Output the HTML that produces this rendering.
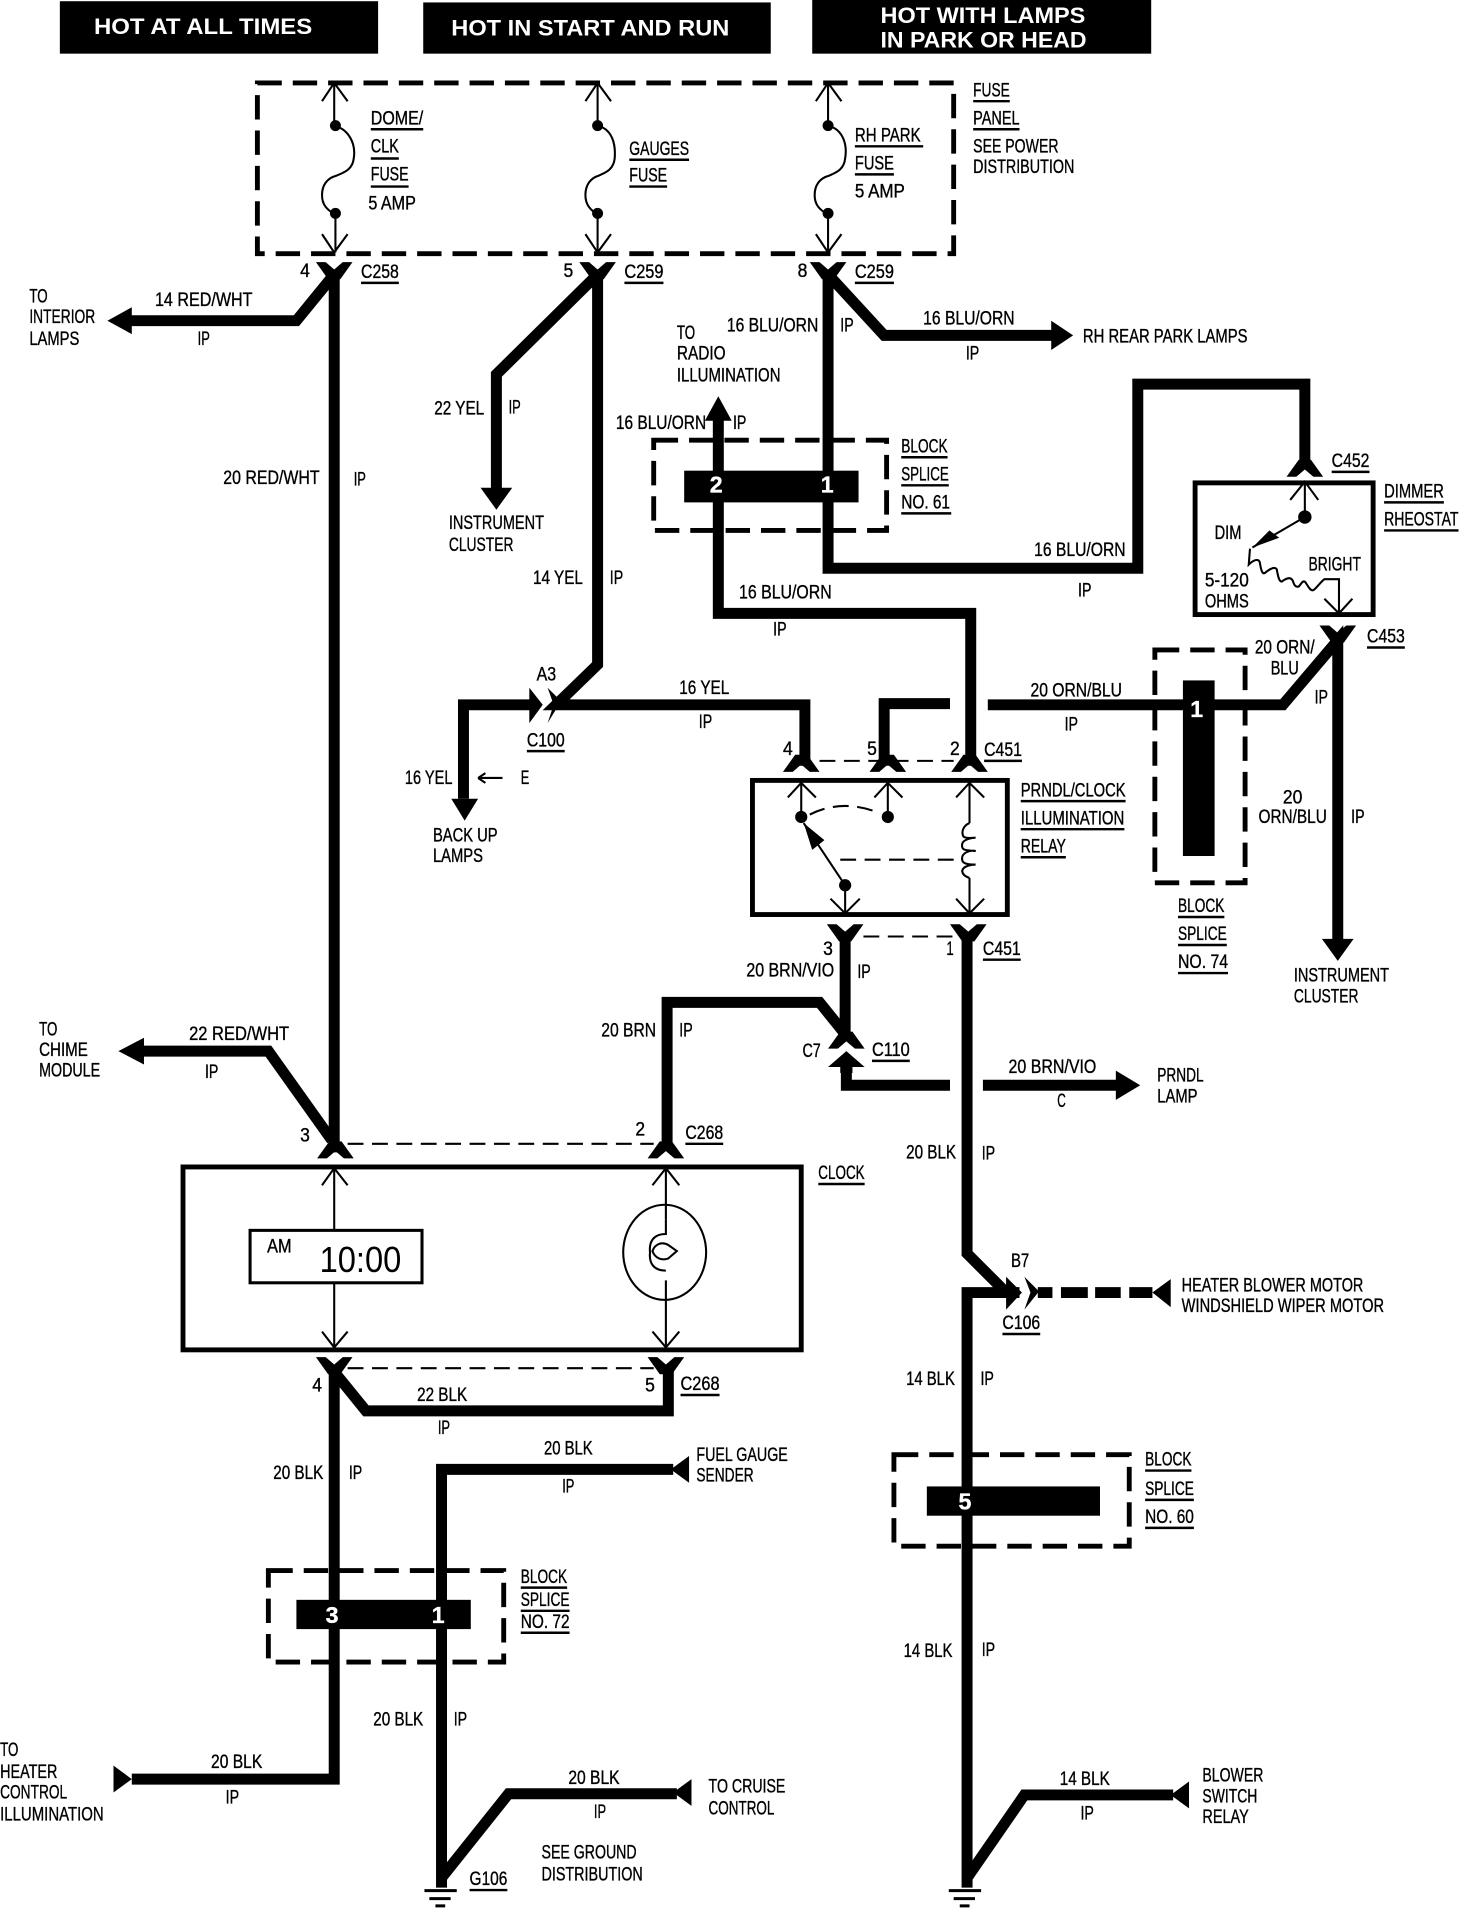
<!DOCTYPE html>
<html><head><meta charset="utf-8"><style>
html,body{margin:0;padding:0;background:#fff}
svg{display:block}
text{font-family:"Liberation Sans",sans-serif;font-size:16px;fill:#000;stroke:#000;stroke-width:.3}
.h{font-weight:bold;fill:#fff;stroke:none;font-size:18px}
.w{fill:#fff;stroke:#fff;font-weight:bold;font-size:19px}
.wire{fill:none;stroke:#000;stroke-width:9;stroke-linejoin:miter}
.thin{fill:none;stroke:#000;stroke-width:1.7}
.ul{fill:none;stroke:#000;stroke-width:2}
.dash{fill:none;stroke:#000;stroke-width:4;stroke-dasharray:20 9}
.dl{fill:none;stroke:#000;stroke-width:1.7;stroke-dasharray:13 7}
.box{fill:none;stroke:#000;stroke-width:4}
</style></head><body>
<svg width="1472" height="1912" viewBox="0 0 1207 1568" xmlns="http://www.w3.org/2000/svg">
<rect width="1207" height="1568" fill="#fff"/>
<rect x="49" y="1" width="261" height="43"/><rect x="347" y="2" width="285" height="42"/><rect x="666" y="0" width="278" height="44"/>
<text class="h" x="77" y="28" textLength="179" lengthAdjust="spacingAndGlyphs">HOT AT ALL TIMES</text>
<text class="h" x="370" y="29" textLength="228" lengthAdjust="spacingAndGlyphs">HOT IN START AND RUN</text>
<text class="h" x="722" y="19" textLength="168" lengthAdjust="spacingAndGlyphs">HOT WITH LAMPS</text>
<text class="h" x="722" y="39" textLength="169" lengthAdjust="spacingAndGlyphs">IN PARK OR HEAD</text>

<rect class="dash" x="211" y="68" width="571" height="140"/>
<rect class="dash" x="536" y="361" width="191" height="74"/>
<rect class="dash" x="947" y="533" width="74" height="191"/>
<rect class="dash" x="220" y="1288" width="193" height="75"/>
<rect class="dash" x="733" y="1193" width="193" height="75"/>

<path class="wire" d="M274 225V945M274 225L243 263H105"/>
<path class="wire" d="M490 225V545L456 578H660V628M490 225L407 307V402"/>
<path class="wire" d="M380 655V578H438"/>
<path class="wire" d="M679 225V466H933V315H1070V385M679 225L725 275H865"/>
<path class="wire" d="M589 340V503H796V628"/>
<path class="wire" d="M725 628V577H779M810 578H1052L1097 525V772"/>
<path class="wire" d="M693 765V852M547 940V822H672L693 848M694 866V890H779M806 890H918"/>
<path class="wire" d="M793 765V1028L825 1060H836M836 1060H793V1548"/>
<path class="wire" d="M793 1540L840 1472H962"/>
<path class="wire" d="M115 862H220L272 935"/>
<path class="wire" d="M274 1120V1459H108M274 1125L300 1157H548V1120"/>
<path class="wire" d="M552 1205H362V1548M362 1540L417 1471H555"/>
<path d="M851 1060H863M870 1060H892M898 1060H919M926 1060H945" fill="none" stroke="#000" stroke-width="9"/>
<path d="M88 263L108 252V274ZM407 418L394 400H420ZM381 673L370 655H392ZM880 275L862 263V287ZM589 325L578 345H600ZM1097 788L1084 770H1110ZM935 890L915 878V902ZM97 862L118 851V873ZM108 1459L93 1448V1470ZM550 1205L565 1194V1216ZM552 1470L567 1459V1481ZM960 1472L975 1461V1483ZM945 1060L960 1049V1072Z"/>

<!-- connector shapes -->
<path transform="translate(274 221)" d="M-15 -6H-7L0 0L7 -6H15L5 8H-5Z"/>
<path transform="translate(490 221)" d="M-15 -6H-7L0 0L7 -6H15L5 8H-5Z"/>
<path transform="translate(679 221)" d="M-15 -6H-7L0 0L7 -6H15L5 8H-5Z"/>
<path transform="translate(1097 519)" d="M-15 -6H-7L0 0L7 -6H15L5 8H-5Z"/>
<path transform="translate(693 764)" d="M-15 -6H-7L0 0L7 -6H15L5 8H-5Z"/>
<path transform="translate(794 764)" d="M-15 -6H-7L0 0L7 -6H15L5 8H-5Z"/>
<path transform="translate(274 1119)" d="M-15 -6H-7L0 0L7 -6H15L5 8H-5Z"/>
<path transform="translate(546 1119)" d="M-15 -6H-7L0 0L7 -6H15L5 8H-5Z"/>
<path transform="translate(1070 385)" d="M-15 6H-7L0 0L7 6H15L5 -8H-5Z"/>
<path transform="translate(657 627)" d="M-15 6H-7L0 0L7 6H15L5 -8H-5Z"/>
<path transform="translate(728 627)" d="M-15 6H-7L0 0L7 6H15L5 -8H-5Z"/>
<path transform="translate(795 627)" d="M-15 6H-7L0 0L7 6H15L5 -8H-5Z"/>
<path transform="translate(275 944)" d="M-15 6H-7L0 0L7 6H15L5 -8H-5Z"/>
<path transform="translate(546 944)" d="M-15 6H-7L0 0L7 6H15L5 -8H-5Z"/>
<path transform="translate(694 854)" d="M-15 6H-7L0 0L7 6H15L5 -8H-5Z"/>
<path d="M694 862L709 875H699V880H689V875H679Z"/>
<path d="M434 564L445 578L434 593ZM449 564L460 575L449 593L454 578ZM825 1047L838 1060L825 1074ZM840 1047L852 1059L840 1074L845 1060Z"/>

<rect x="561" y="386" width="143" height="26"/><rect x="970" y="558" width="26" height="144"/>
<rect x="243" y="1312" width="143" height="24"/><rect x="760" y="1219" width="142" height="24"/>
<text class="w" x="582" y="404">2</text><text class="w" x="673" y="404">1</text><text class="w" x="976" y="588">1</text>
<text class="w" x="267" y="1331">3</text><text class="w" x="354" y="1331">1</text><text class="w" x="786" y="1238">5</text>

<g class="thin">
<path d="M274 68V103M264 83L274 68L285 83M275 175V207M264 192L274 207L285 192M274 103C286 106 292 118 290 130C289 140 280 142 276 144C268 146 264 152 264 160C264 168 268 172 275 176"/>
<path d="M490 68V103M480 83L490 68L501 83M490 175V207M480 192L490 207L501 192M490 103C502 106 505 118 504 130C503 140 495 142 491 144C484 146 480 152 480 160C480 168 484 172 490 176"/>
<path d="M679 68V103M669 83L679 68L690 83M679 175V207M669 192L679 207L690 192M679 103C691 106 695 118 693 130C692 140 684 142 680 144C672 146 668 152 668 160C668 168 672 172 679 176"/>
<path d="M657 642V670M646 654L657 642L669 654M728 642V670M717 654L728 642L740 654M795 642V675M784 654L795 642L807 654M795 720V748M784 737L795 749L807 737M693 726V749M681 737L693 749L705 737M693 726L659 675"/>
<path d="M795 675C790 677 788 682 790 686C792 688 798 687 800 687C798 687 790 688 789 692C788 698 792 697 800 698C798 697 790 698 789 703C788 708 792 709 800 709C797 709 790 710 789 714C789 717 792 719 795 720"/>
<path d="M1070 396V424M1058 410L1070 395L1081 410M1070 424L1027 449M1025 450L1024 463C1028 459 1032 458 1033 461C1034 467 1035 471 1037 470C1041 467 1045 464 1047 467C1048 473 1049 477 1051 477C1055 474 1058 473 1060 476C1061 479 1062 482 1065 481C1067 479 1068 476 1070 477C1072 479 1074 485 1077 484C1080 482 1083 477 1086 475H1098V503M1086 491L1098 503L1109 491"/>
<path d="M274 958V1010M264 972L274 958L285 972M274 1052V1105M264 1092L274 1105L285 1092M546 958V1000M535 972L546 958L557 972M546 1050V1105M535 1092L546 1105L557 1092"/>
<ellipse cx="545" cy="1027" rx="34" ry="39"/>
<path d="M546 1000V1012C536 1012 532 1018 533 1027C532 1036 536 1042 546 1042"/>
<path d="M535 1026C537 1020 543 1018 548 1021L555 1026L548 1032C543 1034 537 1032 535 1026Z"/>
</g>
<path d="M659 675L666 697L676 689Z M1027 449L1041 435L1049 441Z"/>
<circle cx="275" cy="103" r="4.5"/><circle cx="275" cy="175" r="4.5"/><circle cx="490" cy="103" r="4.5"/><circle cx="490" cy="175" r="4.5"/><circle cx="679" cy="103" r="4.5"/><circle cx="679" cy="175" r="4.5"/>
<circle cx="657" cy="670" r="5"/><circle cx="728" cy="670" r="5"/><circle cx="693" cy="726" r="5"/><circle cx="1070" cy="424" r="5.5"/>

<path class="dl" d="M672 624H782M708 768H782M285 938H536M285 1122H536M664 668Q690 655 719 666M689 705H782"/>
<rect class="box" x="617" y="640" width="209" height="110"/>
<rect class="box" x="980" y="396" width="146" height="108"/>
<rect class="box" x="150" y="957" width="507" height="150"/>
<rect x="205" y="1009" width="141" height="43" fill="#fff" stroke="#000" stroke-width="2.5"/>
<path d="M348 1550.5H374.5M352 1557H369.5M357 1563H365M778 1550.5H804.5M782 1557H799.5M787 1563H795" fill="none" stroke="#000" stroke-width="2.5"/>
<path d="M392 638H412M392 638L398 634M392 638L398 642" class="thin"/>

<path class="ul" d="M304 106H347M304 130H327M304 153H335M516 131H565M516 153H547M701 120H757M701 143H733M798 83H828M798 106H836M296 232H327M512 232H544M701 232H733M739 375H777M739 398H778M739 421H780M1092 387H1123M1135 412H1184M1135 435H1196M1121 531H1152M432 616H463M807 624H838M837 657H923M837 680H922M837 703H874M966 752H1004M966 775H1006M966 798H1007M806 787H837M715 870H746M562 938H593M671 971H709M558 1144H590M822 1094H853M939 1206H977M939 1230H979M939 1253H979M427 1302H465M427 1321H467M427 1339H467M385 1550H416"/>

<g>
<text x="304" y="102" textLength="43" lengthAdjust="spacingAndGlyphs">DOME/</text>
<text x="304" y="125" textLength="23" lengthAdjust="spacingAndGlyphs">CLK</text>
<text x="304" y="148" textLength="31" lengthAdjust="spacingAndGlyphs">FUSE</text>
<text x="302" y="172" textLength="39" lengthAdjust="spacingAndGlyphs">5 AMP</text>
<text x="516" y="127" textLength="49" lengthAdjust="spacingAndGlyphs">GAUGES</text>
<text x="516" y="149" textLength="31" lengthAdjust="spacingAndGlyphs">FUSE</text>
<text x="701" y="116" textLength="54" lengthAdjust="spacingAndGlyphs">RH PARK</text>
<text x="701" y="139" textLength="32" lengthAdjust="spacingAndGlyphs">FUSE</text>
<text x="701" y="162" textLength="41" lengthAdjust="spacingAndGlyphs">5 AMP</text>
<text x="798" y="79" textLength="30" lengthAdjust="spacingAndGlyphs">FUSE</text>
<text x="798" y="102" textLength="38" lengthAdjust="spacingAndGlyphs">PANEL</text>
<text x="798" y="125" textLength="70" lengthAdjust="spacingAndGlyphs">SEE POWER</text>
<text x="798" y="142" textLength="83" lengthAdjust="spacingAndGlyphs">DISTRIBUTION</text>
<text x="246" y="227" textLength="8" lengthAdjust="spacingAndGlyphs">4</text>
<text x="296" y="228" textLength="31" lengthAdjust="spacingAndGlyphs">C258</text>
<text x="462" y="227" textLength="8" lengthAdjust="spacingAndGlyphs">5</text>
<text x="512" y="228" textLength="32" lengthAdjust="spacingAndGlyphs">C259</text>
<text x="654" y="227" textLength="8" lengthAdjust="spacingAndGlyphs">8</text>
<text x="701" y="228" textLength="32" lengthAdjust="spacingAndGlyphs">C259</text>
<text x="24" y="248" textLength="15" lengthAdjust="spacingAndGlyphs">TO</text>
<text x="24" y="265" textLength="54" lengthAdjust="spacingAndGlyphs">INTERIOR</text>
<text x="24" y="283" textLength="41" lengthAdjust="spacingAndGlyphs">LAMPS</text>
<text x="127" y="251" textLength="80" lengthAdjust="spacingAndGlyphs">14 RED/WHT</text>
<text x="162" y="283" textLength="10" lengthAdjust="spacingAndGlyphs">IP</text>
<text x="183" y="397" textLength="79" lengthAdjust="spacingAndGlyphs">20 RED/WHT</text>
<text x="290" y="398" textLength="10" lengthAdjust="spacingAndGlyphs">IP</text>
<text x="356" y="340" textLength="41" lengthAdjust="spacingAndGlyphs">22 YEL</text>
<text x="417" y="339" textLength="10" lengthAdjust="spacingAndGlyphs">IP</text>
<text x="368" y="434" textLength="78" lengthAdjust="spacingAndGlyphs">INSTRUMENT</text>
<text x="368" y="452" textLength="53" lengthAdjust="spacingAndGlyphs">CLUSTER</text>
<text x="437" y="479" textLength="41" lengthAdjust="spacingAndGlyphs">14 YEL</text>
<text x="500" y="479" textLength="11" lengthAdjust="spacingAndGlyphs">IP</text>
<text x="555" y="278" textLength="15" lengthAdjust="spacingAndGlyphs">TO</text>
<text x="555" y="295" textLength="40" lengthAdjust="spacingAndGlyphs">RADIO</text>
<text x="555" y="313" textLength="85" lengthAdjust="spacingAndGlyphs">ILLUMINATION</text>
<text x="596" y="272" textLength="75" lengthAdjust="spacingAndGlyphs">16 BLU/ORN</text>
<text x="689" y="272" textLength="11" lengthAdjust="spacingAndGlyphs">IP</text>
<text x="757" y="266" textLength="75" lengthAdjust="spacingAndGlyphs">16 BLU/ORN</text>
<text x="792" y="295" textLength="11" lengthAdjust="spacingAndGlyphs">IP</text>
<text x="888" y="281" textLength="135" lengthAdjust="spacingAndGlyphs">RH REAR PARK LAMPS</text>
<text x="505" y="352" textLength="74" lengthAdjust="spacingAndGlyphs">16 BLU/ORN</text>
<text x="601" y="352" textLength="11" lengthAdjust="spacingAndGlyphs">IP</text>
<text x="739" y="371" textLength="38" lengthAdjust="spacingAndGlyphs">BLOCK</text>
<text x="739" y="394" textLength="39" lengthAdjust="spacingAndGlyphs">SPLICE</text>
<text x="739" y="417" textLength="40" lengthAdjust="spacingAndGlyphs">NO. 61</text>
<text x="848" y="456" textLength="75" lengthAdjust="spacingAndGlyphs">16 BLU/ORN</text>
<text x="884" y="489" textLength="11" lengthAdjust="spacingAndGlyphs">IP</text>
<text x="1092" y="383" textLength="31" lengthAdjust="spacingAndGlyphs">C452</text>
<text x="1135" y="408" textLength="49" lengthAdjust="spacingAndGlyphs">DIMMER</text>
<text x="1135" y="431" textLength="61" lengthAdjust="spacingAndGlyphs">RHEOSTAT</text>
<text x="996" y="442" textLength="22" lengthAdjust="spacingAndGlyphs">DIM</text>
<text x="1073" y="468" textLength="43" lengthAdjust="spacingAndGlyphs">BRIGHT</text>
<text x="988" y="481" textLength="36" lengthAdjust="spacingAndGlyphs">5-120</text>
<text x="988" y="498" textLength="36" lengthAdjust="spacingAndGlyphs">OHMS</text>
<text x="1121" y="527" textLength="31" lengthAdjust="spacingAndGlyphs">C453</text>
<text x="606" y="491" textLength="76" lengthAdjust="spacingAndGlyphs">16 BLU/ORN</text>
<text x="634" y="521" textLength="11" lengthAdjust="spacingAndGlyphs">IP</text>
<text x="440" y="558" textLength="16" lengthAdjust="spacingAndGlyphs">A3</text>
<text x="557" y="569" textLength="41" lengthAdjust="spacingAndGlyphs">16 YEL</text>
<text x="573" y="597" textLength="11" lengthAdjust="spacingAndGlyphs">IP</text>
<text x="432" y="612" textLength="31" lengthAdjust="spacingAndGlyphs">C100</text>
<text x="1029" y="536" textLength="49" lengthAdjust="spacingAndGlyphs">20 ORN/</text>
<text x="1042" y="553" textLength="23" lengthAdjust="spacingAndGlyphs">BLU</text>
<text x="845" y="571" textLength="75" lengthAdjust="spacingAndGlyphs">20 ORN/BLU</text>
<text x="873" y="599" textLength="11" lengthAdjust="spacingAndGlyphs">IP</text>
<text x="1078" y="577" textLength="11" lengthAdjust="spacingAndGlyphs">IP</text>
<text x="332" y="643" textLength="39" lengthAdjust="spacingAndGlyphs">16 YEL</text>
<text x="427" y="643" textLength="7" lengthAdjust="spacingAndGlyphs">E</text>
<text x="355" y="690" textLength="53" lengthAdjust="spacingAndGlyphs">BACK UP</text>
<text x="355" y="707" textLength="41" lengthAdjust="spacingAndGlyphs">LAMPS</text>
<text x="642" y="619" textLength="8" lengthAdjust="spacingAndGlyphs">4</text>
<text x="711" y="619" textLength="8" lengthAdjust="spacingAndGlyphs">5</text>
<text x="779" y="619" textLength="8" lengthAdjust="spacingAndGlyphs">2</text>
<text x="807" y="620" textLength="31" lengthAdjust="spacingAndGlyphs">C451</text>
<text x="837" y="653" textLength="86" lengthAdjust="spacingAndGlyphs">PRNDL/CLOCK</text>
<text x="837" y="676" textLength="85" lengthAdjust="spacingAndGlyphs">ILLUMINATION</text>
<text x="837" y="699" textLength="37" lengthAdjust="spacingAndGlyphs">RELAY</text>
<text x="1052" y="659" textLength="16" lengthAdjust="spacingAndGlyphs">20</text>
<text x="1032" y="675" textLength="56" lengthAdjust="spacingAndGlyphs">ORN/BLU</text>
<text x="1108" y="675" textLength="11" lengthAdjust="spacingAndGlyphs">IP</text>
<text x="966" y="748" textLength="38" lengthAdjust="spacingAndGlyphs">BLOCK</text>
<text x="966" y="771" textLength="40" lengthAdjust="spacingAndGlyphs">SPLICE</text>
<text x="966" y="794" textLength="41" lengthAdjust="spacingAndGlyphs">NO. 74</text>
<text x="1061" y="805" textLength="78" lengthAdjust="spacingAndGlyphs">INSTRUMENT</text>
<text x="1061" y="822" textLength="53" lengthAdjust="spacingAndGlyphs">CLUSTER</text>
<text x="675" y="783" textLength="8" lengthAdjust="spacingAndGlyphs">3</text>
<text x="776" y="783" textLength="6" lengthAdjust="spacingAndGlyphs">1</text>
<text x="806" y="783" textLength="31" lengthAdjust="spacingAndGlyphs">C451</text>
<text x="612" y="801" textLength="72" lengthAdjust="spacingAndGlyphs">20 BRN/VIO</text>
<text x="703" y="802" textLength="11" lengthAdjust="spacingAndGlyphs">IP</text>
<text x="493" y="850" textLength="45" lengthAdjust="spacingAndGlyphs">20 BRN</text>
<text x="557" y="850" textLength="11" lengthAdjust="spacingAndGlyphs">IP</text>
<text x="658" y="867" textLength="15" lengthAdjust="spacingAndGlyphs">C7</text>
<text x="715" y="866" textLength="31" lengthAdjust="spacingAndGlyphs">C110</text>
<text x="827" y="880" textLength="72" lengthAdjust="spacingAndGlyphs">20 BRN/VIO</text>
<text x="867" y="908" textLength="7" lengthAdjust="spacingAndGlyphs">C</text>
<text x="949" y="887" textLength="38" lengthAdjust="spacingAndGlyphs">PRNDL</text>
<text x="949" y="904" textLength="33" lengthAdjust="spacingAndGlyphs">LAMP</text>
<text x="743" y="950" textLength="41" lengthAdjust="spacingAndGlyphs">20 BLK</text>
<text x="805" y="951" textLength="11" lengthAdjust="spacingAndGlyphs">IP</text>
<text x="32" y="849" textLength="15" lengthAdjust="spacingAndGlyphs">TO</text>
<text x="32" y="866" textLength="40" lengthAdjust="spacingAndGlyphs">CHIME</text>
<text x="32" y="883" textLength="50" lengthAdjust="spacingAndGlyphs">MODULE</text>
<text x="155" y="853" textLength="82" lengthAdjust="spacingAndGlyphs">22 RED/WHT</text>
<text x="168" y="884" textLength="11" lengthAdjust="spacingAndGlyphs">IP</text>
<text x="246" y="936" textLength="8" lengthAdjust="spacingAndGlyphs">3</text>
<text x="521" y="931" textLength="8" lengthAdjust="spacingAndGlyphs">2</text>
<text x="562" y="934" textLength="31" lengthAdjust="spacingAndGlyphs">C268</text>
<text x="671" y="967" textLength="38" lengthAdjust="spacingAndGlyphs">CLOCK</text>
<text x="219" y="1027" textLength="20" lengthAdjust="spacingAndGlyphs">AM</text>
<text x="262" y="1043" textLength="67" lengthAdjust="spacingAndGlyphs" style="font-size:30px;stroke:none">10:00</text>
<text x="256" y="1141" textLength="8" lengthAdjust="spacingAndGlyphs">4</text>
<text x="529" y="1141" textLength="8" lengthAdjust="spacingAndGlyphs">5</text>
<text x="558" y="1140" textLength="32" lengthAdjust="spacingAndGlyphs">C268</text>
<text x="342" y="1149" textLength="41" lengthAdjust="spacingAndGlyphs">22 BLK</text>
<text x="359" y="1176" textLength="10" lengthAdjust="spacingAndGlyphs">IP</text>
<text x="829" y="1039" textLength="15" lengthAdjust="spacingAndGlyphs">B7</text>
<text x="822" y="1090" textLength="31" lengthAdjust="spacingAndGlyphs">C106</text>
<text x="969" y="1059" textLength="149" lengthAdjust="spacingAndGlyphs">HEATER BLOWER MOTOR</text>
<text x="969" y="1076" textLength="166" lengthAdjust="spacingAndGlyphs">WINDSHIELD WIPER MOTOR</text>
<text x="743" y="1136" textLength="40" lengthAdjust="spacingAndGlyphs">14 BLK</text>
<text x="804" y="1136" textLength="11" lengthAdjust="spacingAndGlyphs">IP</text>
<text x="224" y="1213" textLength="41" lengthAdjust="spacingAndGlyphs">20 BLK</text>
<text x="286" y="1213" textLength="11" lengthAdjust="spacingAndGlyphs">IP</text>
<text x="446" y="1193" textLength="40" lengthAdjust="spacingAndGlyphs">20 BLK</text>
<text x="461" y="1224" textLength="10" lengthAdjust="spacingAndGlyphs">IP</text>
<text x="571" y="1198" textLength="75" lengthAdjust="spacingAndGlyphs">FUEL GAUGE</text>
<text x="571" y="1215" textLength="47" lengthAdjust="spacingAndGlyphs">SENDER</text>
<text x="939" y="1202" textLength="38" lengthAdjust="spacingAndGlyphs">BLOCK</text>
<text x="939" y="1226" textLength="40" lengthAdjust="spacingAndGlyphs">SPLICE</text>
<text x="939" y="1249" textLength="40" lengthAdjust="spacingAndGlyphs">NO. 60</text>
<text x="427" y="1298" textLength="38" lengthAdjust="spacingAndGlyphs">BLOCK</text>
<text x="427" y="1317" textLength="40" lengthAdjust="spacingAndGlyphs">SPLICE</text>
<text x="427" y="1335" textLength="40" lengthAdjust="spacingAndGlyphs">NO. 72</text>
<text x="741" y="1359" textLength="40" lengthAdjust="spacingAndGlyphs">14 BLK</text>
<text x="805" y="1358" textLength="11" lengthAdjust="spacingAndGlyphs">IP</text>
<text x="306" y="1415" textLength="41" lengthAdjust="spacingAndGlyphs">20 BLK</text>
<text x="372" y="1415" textLength="11" lengthAdjust="spacingAndGlyphs">IP</text>
<text x="0" y="1440" textLength="15" lengthAdjust="spacingAndGlyphs">TO</text>
<text x="0" y="1458" textLength="47" lengthAdjust="spacingAndGlyphs">HEATER</text>
<text x="0" y="1475" textLength="55" lengthAdjust="spacingAndGlyphs">CONTROL</text>
<text x="0" y="1493" textLength="85" lengthAdjust="spacingAndGlyphs">ILLUMINATION</text>
<text x="173" y="1450" textLength="42" lengthAdjust="spacingAndGlyphs">20 BLK</text>
<text x="185" y="1479" textLength="11" lengthAdjust="spacingAndGlyphs">IP</text>
<text x="466" y="1463" textLength="42" lengthAdjust="spacingAndGlyphs">20 BLK</text>
<text x="487" y="1491" textLength="10" lengthAdjust="spacingAndGlyphs">IP</text>
<text x="581" y="1470" textLength="63" lengthAdjust="spacingAndGlyphs">TO CRUISE</text>
<text x="581" y="1488" textLength="54" lengthAdjust="spacingAndGlyphs">CONTROL</text>
<text x="869" y="1464" textLength="41" lengthAdjust="spacingAndGlyphs">14 BLK</text>
<text x="886" y="1492" textLength="11" lengthAdjust="spacingAndGlyphs">IP</text>
<text x="986" y="1461" textLength="50" lengthAdjust="spacingAndGlyphs">BLOWER</text>
<text x="986" y="1478" textLength="45" lengthAdjust="spacingAndGlyphs">SWITCH</text>
<text x="986" y="1495" textLength="38" lengthAdjust="spacingAndGlyphs">RELAY</text>
<text x="444" y="1524" textLength="78" lengthAdjust="spacingAndGlyphs">SEE GROUND</text>
<text x="444" y="1542" textLength="83" lengthAdjust="spacingAndGlyphs">DISTRIBUTION</text>
<text x="385" y="1546" textLength="31" lengthAdjust="spacingAndGlyphs">G106</text>
</g>
</svg>
</body></html>
